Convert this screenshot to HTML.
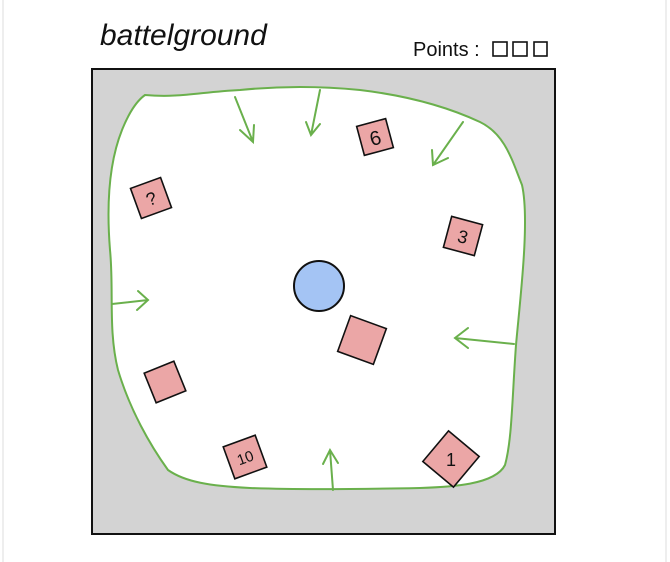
<!DOCTYPE html>
<html><head><meta charset="utf-8"><style>
html,body{margin:0;padding:0;background:#fff;width:670px;height:562px;overflow:hidden}
svg{display:block}
text{font-family:"Liberation Sans",sans-serif}
</style></head><body>
<svg width="670" height="562" viewBox="0 0 670 562">
<line x1="3" y1="0" x2="3" y2="562" stroke="#eee" stroke-width="2"/>
<line x1="666" y1="0" x2="666" y2="562" stroke="#eee" stroke-width="2"/>
<text x="100" y="45" font-size="30" font-style="italic" fill="#111">battelground</text>
<text x="413" y="56" font-size="20" fill="#111">Points :</text>
<g fill="none" stroke="#111" stroke-width="1.6">
<rect x="493" y="42" width="14" height="14"/>
<rect x="513" y="42" width="14" height="14"/>
<rect x="534" y="42" width="13" height="14"/>
</g>
<rect x="92" y="69" width="463" height="465" fill="#d3d3d3" stroke="#111" stroke-width="2"/>
<path d="M145,95 C180,98 200,92 240,90 C280,86 320,86 360,90 C410,96 450,108 480,122 C505,134 512,160 522,185 C530,220 520,300 516,345 C512,400 512,440 505,465 C495,485 450,487 420,488 C370,489 300,490 250,488 C210,486 185,482 168,470 C150,445 130,410 118,370 C108,330 114,290 110,250 C106,200 110,160 122,130 C130,110 138,100 145,95 Z" fill="#fff" stroke="#6ab04c" stroke-width="2"/>
<g stroke="#6ab04c" stroke-width="2" fill="none" stroke-linecap="round">
<path d="M235,97 L253,142 M240,130 L253,142 L254,125"/>
<path d="M320,90 L311,135 M306,122 L311,135 L320,124"/>
<path d="M463,122 L433,165 M432,150 L433,165 L448,158"/>
<path d="M112,304 L148,300 M138,291 L148,300 L137,310"/>
<path d="M514,344 L455,338 M468,328 L455,338 L468,348"/>
<path d="M333,490 L330,450 M323,464 L330,450 L338,463"/>
</g>
<circle cx="319" cy="286" r="25" fill="#a4c4f4" stroke="#111" stroke-width="2"/>
<g fill="#eba6a6" stroke="#111" stroke-width="1.6">
<g transform="translate(375,137) rotate(-15)"><rect x="-15" y="-15" width="30" height="30"/><text y="8" font-size="20" text-anchor="middle" fill="#111" stroke="none">6</text></g>
<g transform="translate(151,198) rotate(-20)"><rect x="-16" y="-16" width="32" height="32"/><text y="7" font-size="18" text-anchor="middle" fill="#111" stroke="none">?</text></g>
<g transform="translate(463,236) rotate(15)"><rect x="-16" y="-16" width="32" height="32"/><text y="7" font-size="18" text-anchor="middle" fill="#111" stroke="none">3</text></g>
<g transform="translate(362,340) rotate(20)"><rect x="-19" y="-19" width="38" height="38"/></g>
<g transform="translate(165,382) rotate(-22)"><rect x="-16" y="-16" width="32" height="32"/></g>
<g transform="translate(245,457) rotate(-20)"><rect x="-17" y="-17" width="34" height="34"/><text y="6" font-size="15" text-anchor="middle" fill="#111" stroke="none">10</text></g>
<g transform="translate(451,459) rotate(40)"><rect x="-20" y="-20" width="40" height="40"/><text y="7" font-size="18" text-anchor="middle" fill="#111" stroke="none" transform="rotate(-40)">1</text></g>
</g>
</svg>
</body></html>
